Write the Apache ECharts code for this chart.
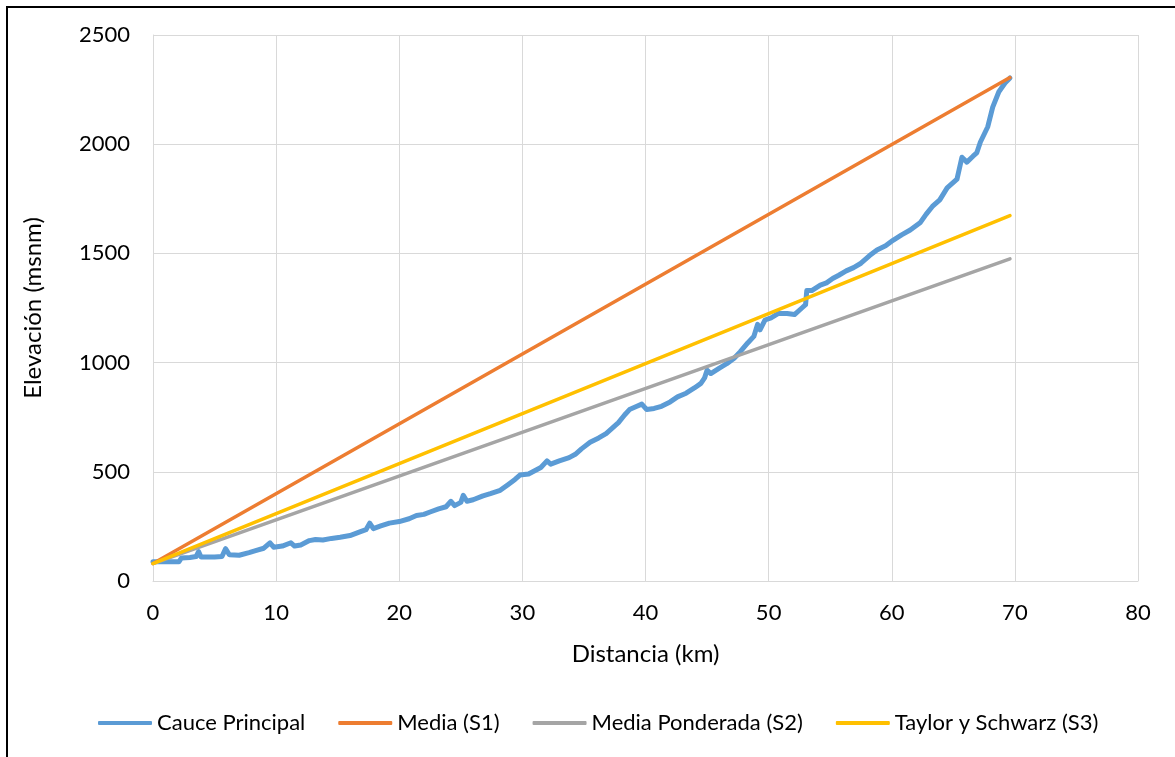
<!DOCTYPE html>
<html>
<head>
<meta charset="utf-8">
<script src="https://cdn.jsdelivr.net/npm/echarts@6/dist/echarts.min.js"></script>
<style>html,body{margin:0;padding:0;background:#fff;}#c{width:1175px;height:757px;}</style>
</head>
<body>
<div id="c"></div>
<script>
// Perfil del cauce principal: [distancia km, elevación msnm]
const caucePrincipal = [
  [0,88],[1,88],[2.1,88],[2.3,105],[3.0,108],[3.5,112],[3.7,135],[3.9,110],[5.0,110],[5.6,112],
  [5.9,148],[6.2,120],[7.0,118],[7.8,130],[8.4,140],[9.0,150],[9.5,175],[9.8,155],[10.5,160],[11.2,175],
  [11.5,160],[12.0,165],[12.7,185],[13.2,190],[13.8,188],[14.5,195],[15.2,200],[16.0,208],[16.8,225],[17.3,235],
  [17.6,265],[17.9,240],[18.5,252],[19.2,265],[20.0,272],[20.8,285],[21.4,300],[22.0,305],[22.5,316],[23.2,330],
  [23.8,340],[24.2,365],[24.5,345],[25.0,360],[25.2,392],[25.5,365],[26.0,372],[26.8,390],[27.4,400],[28.2,415],
  [28.8,440],[29.4,465],[29.8,485],[30.5,490],[31.0,505],[31.5,520],[32.0,550],[32.3,535],[33.0,550],[33.8,565],
  [34.3,580],[34.8,605],[35.5,635],[36.2,655],[36.8,675],[37.3,700],[37.8,725],[38.3,760],[38.7,785],[39.3,800],
  [39.7,810],[40.1,785],[40.7,790],[41.3,800],[42.0,820],[42.6,843],[43.3,860],[44.0,885],[44.5,905],[44.8,930],
  [45.0,965],[45.3,950],[46.0,975],[46.6,995],[47.2,1020],[47.7,1050],[48.3,1090],[48.8,1120],[49.1,1175],[49.3,1150],
  [49.7,1195],[50.2,1205],[50.8,1225],[51.5,1225],[52.1,1220],[52.7,1250],[53.0,1265],[53.1,1330],[53.5,1330],[54.2,1355],
  [54.7,1365],[55.2,1385],[55.7,1400],[56.3,1420],[56.9,1435],[57.5,1455],[58.2,1490],[58.8,1516],[59.5,1535],[60.1,1560],
  [60.8,1585],[61.5,1607],[62.3,1640],[62.8,1680],[63.3,1715],[63.9,1745],[64.5,1800],[65.3,1840],[65.7,1940],[66.1,1918],
  [66.6,1945],[66.9,1960],[67.2,2010],[67.8,2080],[68.2,2170],[68.7,2240],[69.2,2280],[69.6,2303]
];
const mediaS1 = [[0,80],[69.6,2305]];
const mediaPonderadaS2 = [[0,80],[69.6,1475]];
const taylorSchwarzS3 = [[0,80],[69.6,1673]];
const seriesNames = ['Cauce Principal','Media (S1)','Media Ponderada (S2)','Taylor y Schwarz (S3)'];
const seriesColors = ['#5B9BD5','#ED7D31','#A5A5A5','#FFC000'];
const xTitle = 'Distancia (km)';
const yTitle = 'Elevación (msnm)';

const FONT = 'Lato';
const chart = echarts.init(document.getElementById('c'), null, {renderer:'canvas'});
const datasets = [caucePrincipal, mediaS1, mediaPonderadaS2, taylorSchwarzS3];
chart.setOption({
  animation:false,
  backgroundColor:'#fff',
  textStyle:{fontFamily:FONT},
  grid:{left:153,right:37,top:35,bottom:176},
  xAxis:{type:'value',min:0,max:80,interval:10,
    name:xTitle,nameLocation:'middle',nameGap:61,
    nameTextStyle:{fontFamily:FONT,fontSize:24,color:'#000'},
    axisLine:{lineStyle:{color:'#D9D9D9',width:1}},axisTick:{show:false},
    axisLabel:{fontFamily:FONT,fontSize:22,color:'#000',margin:21,formatter:v=>String(v)},
    splitLine:{show:true,lineStyle:{color:'#D9D9D9',width:1}}},
  yAxis:{type:'value',min:0,max:2500,interval:500,
    name:yTitle,nameLocation:'middle',nameGap:108,
    nameTextStyle:{fontFamily:FONT,fontSize:24,color:'#000'},
    axisLine:{show:true,lineStyle:{color:'#D9D9D9',width:1}},axisTick:{show:false},
    axisLabel:{fontFamily:FONT,fontSize:22,color:'#000',margin:23,formatter:v=>String(v)},
    splitLine:{show:true,lineStyle:{color:'#D9D9D9',width:1}}},
  legend:{left:98,top:712,padding:0,itemWidth:54,itemHeight:4,itemGap:33,icon:'roundRect',
    data:seriesNames,textStyle:{fontFamily:FONT,fontSize:22,color:'#000'}},
  series: datasets.map((d,i)=>({
    name:seriesNames[i],type:'line',data:d,showSymbol:false,symbol:'none',
    color:seriesColors[i],
    lineStyle:{color:seriesColors[i],width:i===0?5:3.5,cap:'round',join:'round'},
    z:2+i
  })),
  graphic:[{type:'rect',shape:{x:7,y:7,width:1300,height:900},
    style:{fill:null,stroke:'#000',lineWidth:2},silent:true,z:100}]
});
</script>
</body>
</html>
